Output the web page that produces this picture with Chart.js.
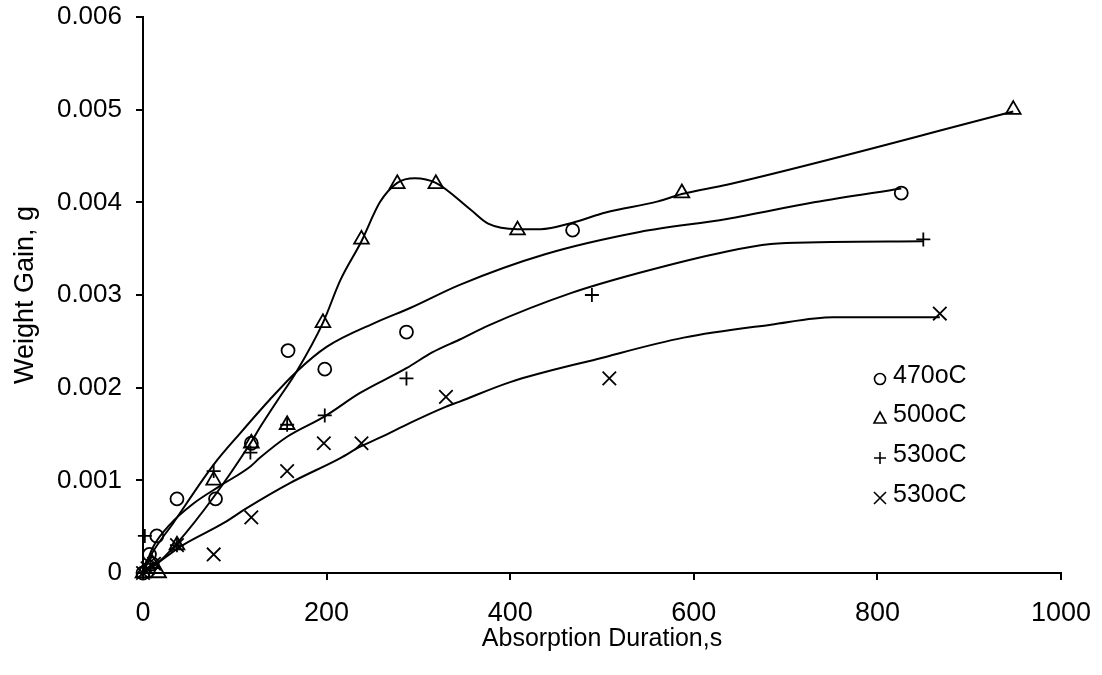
<!DOCTYPE html>
<html>
<head>
<meta charset="utf-8">
<script src="https://cdn.jsdelivr.net/npm/chart.js@4.4.1/dist/chart.umd.min.js"></script>
<style>
  html, body { margin: 0; padding: 0; background: #fff; }
  #wrap { width: 1102px; height: 675px; }
</style>
</head>
<body>
<div id="wrap"><canvas id="c" width="1102" height="675"></canvas></div>
<script>
// ---- measured points ----
const t470X = [0, 10, 7, 15, 37, 79, 118, 158, 198, 287, 468, 826];
const t470Y = [0, 0.0001, 0.0002, 0.0004, 0.0008, 0.0008, 0.0014, 0.0024, 0.0022, 0.0026, 0.0037, 0.0041];

const t500X = [0, 10, 17, 37, 77, 118, 157, 196, 238, 277, 319, 408, 587, 948];
const t500Y = [0, 0.0001, 0, 0.0003, 0.001, 0.0014, 0.0016, 0.0027, 0.0036, 0.0042, 0.0042, 0.0037, 0.0041, 0.005];

const t530pX = [0, 2, 8, 37, 77, 117, 157, 198, 287, 489, 850];
const t530pY = [0, 0.0004, 0.0001, 0.0003, 0.0011, 0.0013, 0.0016, 0.0017, 0.0021, 0.003, 0.0036];

const t530xX = [0, 5, 12, 37, 77, 118, 157, 197, 238, 330, 508, 868];
const t530xY = [0, 0.00005, 0.0001, 0.0003, 0.0002, 0.0006, 0.0011, 0.0014, 0.0014, 0.0019, 0.0021, 0.0028];

// ---- trend curves ----
const fit470X = [0, 8, 33, 77, 106, 138, 167, 200, 255, 291, 345, 438, 541, 636, 731, 826];
const fit470Y = [0, 0.00018, 0.00054, 0.00117, 0.00151, 0.00187, 0.00217, 0.00244, 0.00271, 0.00286, 0.00311, 0.00344, 0.00368, 0.00382, 0.0040, 0.00415];

const fit500X = [0, 4, 15, 37, 77, 117, 128, 147, 167, 196, 215, 238, 258, 277, 296, 319, 357, 376, 408, 433, 468, 504, 561, 587, 636, 948];
const fit500Y = [0, 0.00003, 0.0001, 0.00032, 0.00082, 0.0014, 0.00158, 0.00187, 0.00217, 0.0027, 0.00316, 0.00358, 0.0040, 0.00421, 0.00426, 0.00421, 0.00392, 0.00377, 0.00371, 0.00371, 0.00378, 0.00389, 0.00401, 0.00409, 0.00419, 0.00498];

const fit530pX = [0, 11, 29, 55, 84, 117, 127, 157, 198, 236, 287, 315, 345, 376, 466, 541, 636, 684, 736, 850];
const fit530pY = [0, 0.00028, 0.00052, 0.00075, 0.00094, 0.00115, 0.00124, 0.00147, 0.00169, 0.00194, 0.00221, 0.00238, 0.00252, 0.00267, 0.00302, 0.00324, 0.00347, 0.00355, 0.00357, 0.00358];

const fit530xX = [0, 11, 40, 88, 113, 160, 215, 236, 258, 291, 329, 345, 400, 495, 589, 684, 752, 868];
const fit530xY = [0, 0.00007, 0.00028, 0.00054, 0.0007, 0.00097, 0.00124, 0.00136, 0.00146, 0.00162, 0.00179, 0.00185, 0.00206, 0.00231, 0.00254, 0.00268, 0.00276, 0.00276];

const seriesLabels = ['470oC', '500oC', '530oC', '530oC'];
const yTicks = [0, 0.001, 0.002, 0.003, 0.004, 0.005, 0.006];
const xTicks = [0, 200, 400, 600, 800, 1000];

const pts = (xs, ys) => xs.map((x, i) => ({ x: x, y: ys[i] }));

function curve(xs, ys) {
  return {
    data: pts(xs, ys), showLine: true, pointRadius: 0, borderColor: '#000',
    borderWidth: 2, cubicInterpolationMode: 'monotone', clip: false, order: 2
  };
}
function marks(label, xs, ys, style, r) {
  return {
    label: label, data: pts(xs, ys), showLine: false, pointStyle: style, pointRadius: r,
    pointBorderColor: '#000', pointBackgroundColor: 'rgba(0,0,0,0)', pointBorderWidth: 1.8,
    clip: false, order: 1
  };
}

const styles = ['circle', 'triangle', 'cross', 'crossRot'];

const legendPlugin = {
  id: 'customLegend',
  afterDatasetsDraw(chart) {
    const ctx = chart.ctx;
    ctx.save();
    ctx.font = '25px "Liberation Sans", Arial, sans-serif';
    ctx.fillStyle = '#000';
    ctx.textBaseline = 'middle';
    ctx.textAlign = 'left';
    const rows = [376, 415, 455, 495];
    seriesLabels.forEach((lab, i) => {
      const mx = 880, my = rows[i] + 3;
      ctx.strokeStyle = '#000';
      ctx.lineWidth = 1.6;
      ctx.beginPath();
      if (styles[i] === 'circle') {
        ctx.arc(mx, my, 5.5, 0, Math.PI * 2);
      } else if (styles[i] === 'triangle') {
        ctx.moveTo(mx, my - 6); ctx.lineTo(mx + 6, my + 5); ctx.lineTo(mx - 6, my + 5); ctx.closePath();
      } else if (styles[i] === 'cross') {
        ctx.moveTo(mx - 6, my); ctx.lineTo(mx + 6, my); ctx.moveTo(mx, my - 6); ctx.lineTo(mx, my + 6);
      } else {
        ctx.moveTo(mx - 6, my - 6); ctx.lineTo(mx + 6, my + 6); ctx.moveTo(mx + 6, my - 6); ctx.lineTo(mx - 6, my + 6);
      }
      ctx.stroke();
      ctx.fillText(lab, 893, rows[i]);
    });
    ctx.restore();
  }
};

Chart.defaults.font.family = '"Liberation Sans", Arial, sans-serif';
Chart.defaults.color = '#000';

new Chart(document.getElementById('c'), {
  type: 'scatter',
  data: {
    datasets: [
      curve(fit470X, fit470Y),
      curve(fit500X, fit500Y),
      curve(fit530pX, fit530pY),
      curve(fit530xX, fit530xY),
      marks(seriesLabels[0], t470X, t470Y, 'circle', 6.5),
      marks(seriesLabels[1], t500X, t500Y, 'triangle', 8.5),
      marks(seriesLabels[2], t530pX, t530pY, 'cross', 7),
      marks(seriesLabels[3], t530xX, t530xY, 'crossRot', 9.5)
    ]
  },
  options: {
    responsive: false,
    animation: false,
    layout: { padding: { top: 17, right: 41, left: 0, bottom: 0 } },
    plugins: { legend: { display: false }, tooltip: { enabled: false } },
    scales: {
      x: {
        type: 'linear', min: 0, max: 1000,
        afterBuildTicks: s => { s.ticks = xTicks.map(v => ({ value: v })); },
        afterFit: s => { s.height = 102; s.paddingLeft = 0; s.paddingRight = 0; },
        ticks: { font: { size: 27 }, padding: 17, maxRotation: 0, callback: v => String(v) },
        grid: { drawOnChartArea: false, drawTicks: true, tickLength: 7, color: '#000', lineWidth: 2 },
        border: { display: true, color: '#000', width: 2 },
        title: { display: true, text: 'Absorption Duration,s', font: { size: 25 }, padding: { top: 4, bottom: 21 } }
      },
      y: {
        type: 'linear', min: 0, max: 0.006,
        afterBuildTicks: s => { s.ticks = yTicks.map(v => ({ value: v })); },
        afterFit: s => { s.width = 143; s.paddingTop = 0; s.paddingBottom = 0; },
        ticks: { font: { size: 26 }, padding: 14, callback: v => (v === 0 ? '0' : v.toFixed(3)) },
        grid: { drawOnChartArea: false, drawTicks: true, tickLength: 7, color: '#000', lineWidth: 2 },
        border: { display: true, color: '#000', width: 2 },
        title: { display: true, text: 'Weight Gain, g', font: { size: 27 }, padding: { top: 9, bottom: 4 } }
      }
    }
  },
  plugins: [legendPlugin]
});
</script>
</body>
</html>
